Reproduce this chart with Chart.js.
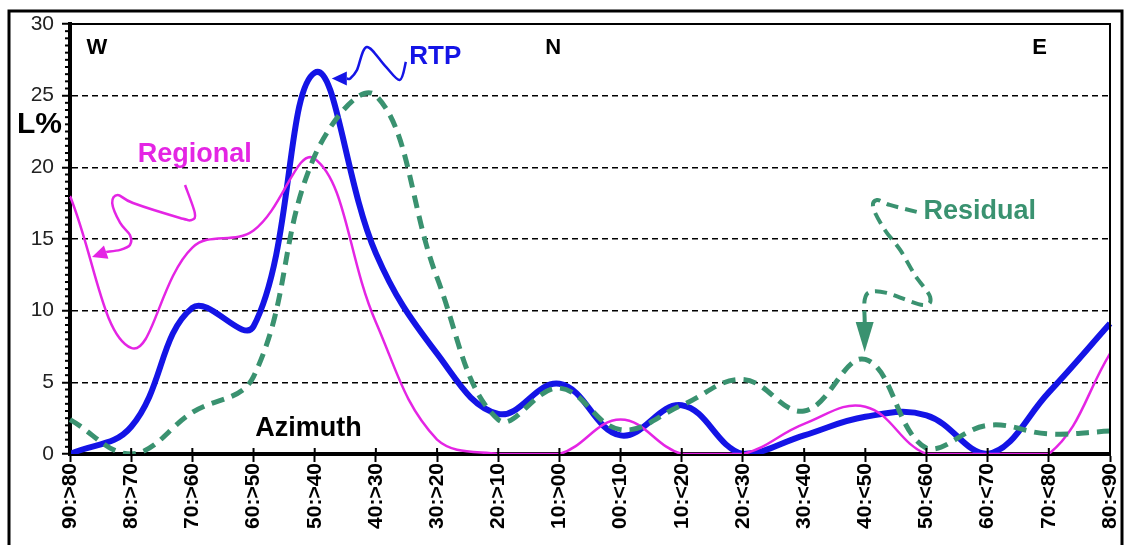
<!DOCTYPE html>
<html>
<head>
<meta charset="utf-8">
<script src="https://cdn.jsdelivr.net/npm/chart.js@4.4.1/dist/chart.umd.min.js"></script>
<style>
  html, body { margin: 0; padding: 0; background: #fff; }
  #wrap { width: 1129px; height: 545px; }
</style>
</head>
<body>
<div id="wrap"><canvas id="myChart" width="1129" height="545"></canvas></div>
<script>
// azimuth classes, W -> N -> E
const categories = ["90:>80", "80:>70", "70:>60", "60:>50", "50:>40", "40:>30", "30:>20", "20:>10", "10:>00",
  "00:<10", "10:<20", "20:<30", "30:<40", "40:<50", "50:<60", "60:<70", "70:<80", "80:<90"];

// L% per class
const rtp = [0, 1.9, 10.2, 8.9, 26.6, 14.0, 7.0, 2.8, 4.9, 1.3, 3.4, 0, 1.3, 2.6, 2.7, 0, 4.3, 9.1];
const regional = [18.0, 7.4, 14.4, 15.6, 20.6, 9.2, 1.0, 0, 0, 2.4, 0, 0, 2.1, 3.3, 0, 0, 0, 7.0];
const residual = [2.4, 0, 2.9, 5.4, 20.8, 25.0, 12.3, 2.4, 4.6, 1.7, 3.4, 5.2, 3.0, 6.6, 0.4, 2.0, 1.4, 1.6];

const yMin = 0, yMax = 30, yStep = 5;

const BLUE = "#1414e6";
const MAGENTA = "#e425e4";
const GREEN = "#3a9270";
const FONT = "'Liberation Sans', Arial, sans-serif";

// text labels placed in data units (category index, L%)
const notes = [
  { text: "W", x: 0.44, y: 28.3, color: "#000", size: 22 },
  { text: "N", x: 7.9, y: 28.3, color: "#000", size: 22 },
  { text: "E", x: 15.85, y: 28.3, color: "#000", size: 22 },
  { text: "RTP", x: 5.97, y: 27.7, color: BLUE, size: 26 },
  { text: "Regional", x: 2.04, y: 20.9, color: MAGENTA, size: 27 },
  { text: "Residual", x: 14.87, y: 16.9, color: GREEN, size: 27 },
  { text: "Azimuth", x: 3.9, y: 1.8, color: "#000", size: 27 }
];

// curly pointer arrows, also in data units; last point is the tip
const arrows = [
  { color: BLUE, width: 2.5, dash: [], pts: [[5.49, 27.36], [5.39, 26.1], [5.15, 27.08], [4.85, 28.4], [4.69, 26.78], [4.58, 26.2], [4.28, 26.2]] },
  { color: MAGENTA, width: 2.5, dash: [], pts: [[1.88, 18.77], [2.04, 16.82], [1.99, 16.33], [1.80, 16.47], [1.03, 17.51], [0.78, 18.07], [0.69, 17.51], [0.82, 16.12], [0.98, 15.28], [0.98, 14.58], [0.82, 14.24], [0.60, 14.1], [0.36, 13.75]] },
  { color: GREEN, width: 4, dash: [12, 7], pts: [[13.84, 16.89], [13.40, 17.38], [13.19, 17.72], [13.13, 17.16], [13.32, 15.63], [13.57, 14.24], [13.81, 12.49], [14.06, 10.96], [13.94, 10.40], [13.35, 11.24], [13.08, 11.3], [12.99, 10.75], [12.99, 9.35], [12.99, 7.12]] }
];

function smoothPath(ctx, pts) {
  ctx.moveTo(pts[0].x, pts[0].y);
  for (let i = 0; i < pts.length - 1; i++) {
    const p0 = pts[i - 1] || pts[i];
    const p1 = pts[i];
    const p2 = pts[i + 1];
    const p3 = pts[i + 2] || p2;
    ctx.bezierCurveTo(
      p1.x + (p2.x - p0.x) / 6, p1.y + (p2.y - p0.y) / 6,
      p2.x - (p3.x - p1.x) / 6, p2.y - (p3.y - p1.y) / 6,
      p2.x, p2.y);
  }
}

const decorations = {
  id: "decorations",
  afterDraw(chart) {
    const ctx = chart.ctx;
    const xs = chart.scales.x, ys = chart.scales.y;
    const a = chart.chartArea;
    const px = (i) => xs.getPixelForValue(i);
    const py = (v) => ys.getPixelForValue(v);
    ctx.save();

    // outer frame
    ctx.strokeStyle = "#000";
    ctx.lineWidth = 3;
    ctx.strokeRect(9, 11, chart.width - 16, chart.height + 20);

    // plot border top + right
    ctx.lineWidth = 2;
    ctx.beginPath();
    ctx.moveTo(a.left, a.top);
    ctx.lineTo(a.right, a.top);
    ctx.lineTo(a.right, a.bottom);
    ctx.stroke();

    // minor ticks on the y axis
    ctx.lineWidth = 2;
    for (let v = yMin; v <= yMax; v += 0.5) {
      if (v % yStep === 0) continue;
      const y = py(v);
      ctx.beginPath();
      ctx.moveTo(a.left - 5, y);
      ctx.lineTo(a.left, y);
      ctx.stroke();
    }
    // x ticks poke up into the plot too
    for (let i = 0; i < categories.length; i++) {
      ctx.beginPath();
      ctx.moveTo(px(i), a.bottom);
      ctx.lineTo(px(i), a.bottom - 6);
      ctx.stroke();
    }

    // y label
    ctx.fillStyle = "#000";
    ctx.font = "bold 30px " + FONT;
    ctx.textAlign = "left";
    ctx.textBaseline = "middle";
    ctx.fillText("L%", 17, py(23.0));

    // notes
    ctx.textAlign = "center";
    notes.forEach(n => {
      ctx.fillStyle = n.color;
      ctx.font = "bold " + n.size + "px " + FONT;
      ctx.fillText(n.text, px(n.x), py(n.y));
    });

    // arrows
    arrows.forEach(ar => {
      const pts = ar.pts.map(p => ({ x: px(p[0]), y: py(p[1]) }));
      const tip = pts[pts.length - 1];
      const prev = pts[pts.length - 2];
      let dx = tip.x - prev.x, dy = tip.y - prev.y;
      const len = Math.hypot(dx, dy);
      dx /= len; dy /= len;
      const head = ar.width > 3 ? 30 : 15;
      const half = ar.width > 3 ? 9 : 7;
      const base = { x: tip.x - dx * head, y: tip.y - dy * head };
      const body = pts.slice(0, -1).concat([base]);
      ctx.strokeStyle = ar.color;
      ctx.lineWidth = ar.width;
      ctx.lineCap = "butt";
      ctx.setLineDash(ar.dash);
      ctx.beginPath();
      smoothPath(ctx, body);
      ctx.stroke();
      ctx.setLineDash([]);
      ctx.fillStyle = ar.color;
      ctx.beginPath();
      ctx.moveTo(tip.x, tip.y);
      ctx.lineTo(base.x - dy * half, base.y + dx * half);
      ctx.lineTo(base.x + dy * half, base.y - dx * half);
      ctx.closePath();
      ctx.fill();
    });

    ctx.restore();
  }
};

const ctx = document.getElementById("myChart");

new Chart(ctx, {
  type: "line",
  data: {
    labels: categories,
    datasets: [
      {
        label: "RTP",
        data: rtp,
        borderColor: BLUE,
        borderWidth: 6,
        pointRadius: 0,
        tension: 0.4,
        order: 3
      },
      {
        label: "Regional",
        data: regional,
        borderColor: MAGENTA,
        borderWidth: 2.5,
        pointRadius: 0,
        tension: 0.4,
        order: 2
      },
      {
        label: "Residual",
        data: residual,
        borderColor: GREEN,
        borderWidth: 5,
        borderDash: [13, 8],
        pointRadius: 0,
        tension: 0.4,
        order: 1
      }
    ]
  },
  options: {
    responsive: false,
    animation: false,
    events: [],
    layout: { padding: { left: 0, top: 24, right: 19, bottom: 0 } },
    plugins: {
      legend: { display: false },
      tooltip: { enabled: false }
    },
    scales: {
      x: {
        afterFit: (scale) => {
          scale.height = 91;
          // rotated labels would otherwise push the plot in from the right
          scale.paddingLeft = 0;
          scale.paddingRight = 0;
        },
        grid: { drawOnChartArea: false, tickLength: 8, tickColor: "#000", tickWidth: 2 },
        border: { color: "#000", width: 4 },
        ticks: {
          autoSkip: false,
          minRotation: 90,
          maxRotation: 90,
          padding: 1,
          color: "#000",
          font: { family: FONT, size: 21, weight: "bold" }
        }
      },
      y: {
        min: yMin,
        max: yMax,
        afterFit: (scale) => { scale.width = 70; },
        grid: {
          color: (c) => (c.tick && c.tick.value > yMin && c.tick.value < yMax) ? "#000" : "rgba(0,0,0,0)",
          lineWidth: 1.5,
          tickColor: "#000",
          tickWidth: 2,
          tickLength: 8
        },
        border: { color: "#000", width: 4, dash: [6, 4] },
        ticks: {
          stepSize: yStep,
          padding: 8,
          color: "#222",
          font: { family: FONT, size: 21 }
        }
      }
    }
  },
  plugins: [decorations]
});
</script>
</body>
</html>
